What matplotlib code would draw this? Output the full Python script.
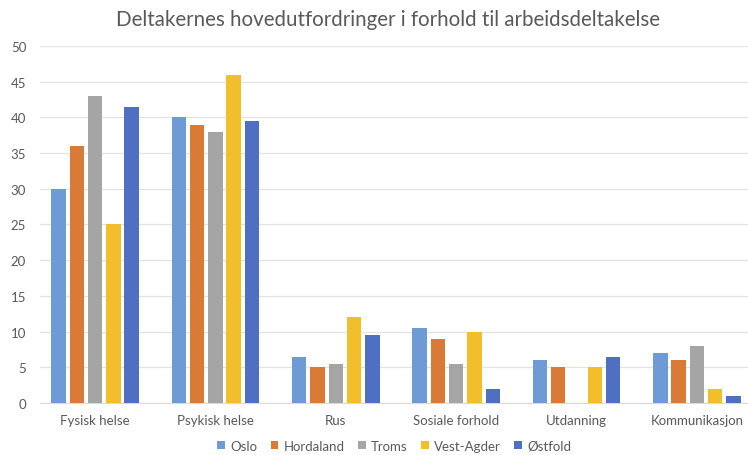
import numpy as np
import matplotlib.pyplot as plt

plt.rcParams['font.family'] = ['Lato', 'DejaVu Sans']

# Data
categories = ['Fysisk helse', 'Psykisk helse', 'Rus', 'Sosiale forhold',
              'Utdanning', 'Kommunikasjon']
regions = ['Oslo', 'Hordaland', 'Troms', 'Vest-Agder', 'Østfold']
oslo = [30, 40, 6.5, 10.5, 6, 7]
hordaland = [36, 39, 5, 9, 5, 6]
troms = [43, 38, 5.5, 5.5, 0, 8]
vest_agder = [25, 46, 12, 10, 5, 2]
ostfold = [41.5, 39.5, 9.5, 2, 6.5, 1]
series = [oslo, hordaland, troms, vest_agder, ostfold]
colors = ['#6E9BD6', '#D97A37', '#A5A5A5', '#F2BE2C', '#4F6FC2']

fig = plt.figure(figsize=(7.48, 4.56), dpi=100)
ax = fig.add_axes([0.0535, 0.114, 0.9465, 0.783])

x = np.arange(len(categories))
step = 0.152
width = 0.12
for i, (vals, name, c) in enumerate(zip(series, regions, colors)):
    ax.bar(x + (i - 2) * step, vals, width, color=c, label=name, zorder=3)

ax.set_xlim(-0.457, 5.424)
ax.set_ylim(0, 50)
ax.set_yticks(range(0, 51, 5))
ax.set_xticks(x)
ax.set_xticklabels(categories)
ax.grid(axis='y', color='#E3E3E3', linewidth=0.9, zorder=0)
for s in ['top', 'right', 'left']:
    ax.spines[s].set_visible(False)
ax.spines['bottom'].set_color('#D9D9D9')
ax.tick_params(axis='both', length=0, labelsize=9.5, colors='#595959')
ax.tick_params(axis='x', pad=8)
ax.tick_params(axis='y', pad=10)

fig.suptitle('Deltakernes hovedutfordringer i forhold til arbeidsdeltakelse',
             x=0.519, y=0.978, fontsize=14.8, color='#595959')

leg = fig.legend(loc='center', bbox_to_anchor=(0.527, 0.02), ncol=5, frameon=False,
                 fontsize=9.5, handlelength=0.6, handleheight=0.6,
                 handletextpad=0.4, columnspacing=1.0)
for t in leg.get_texts():
    t.set_color('#595959')

fig.savefig('out.png', dpi=100)
